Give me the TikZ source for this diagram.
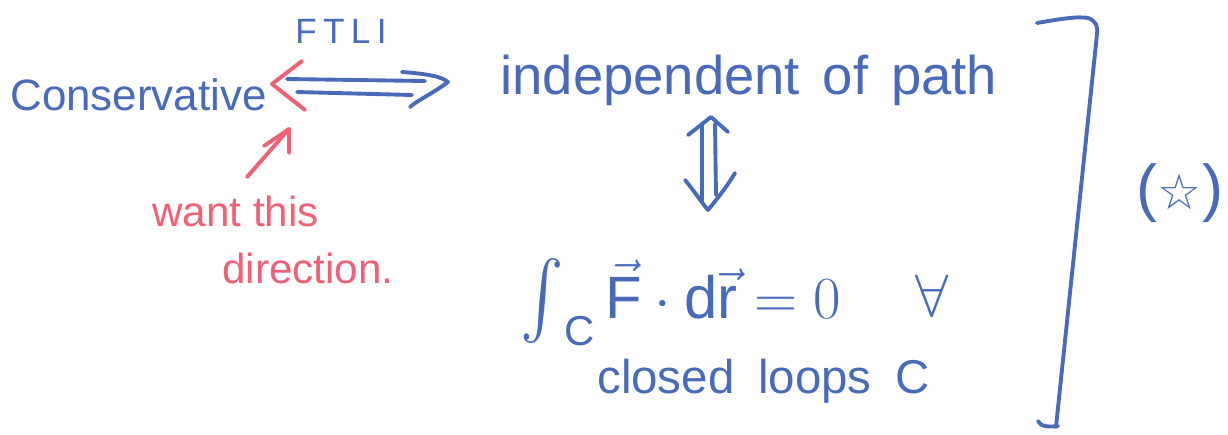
\RequirePackage{fix-cm}
\documentclass[tikz,border=0pt]{standalone}
\usepackage{amsmath}
\usepackage{graphicx}
\usepackage{fontspec}
\setmainfont{Liberation Sans}
\newfontfamily\symfont{DejaVu Sans}
\definecolor{inkblue}{RGB}{72,106,184}
\definecolor{inkred}{RGB}{240,96,118}
\newcommand{\widesp}[1]{\spaceskip=#1\relax}
\newcommand{\bigint}{\mathop{\raisebox{-5pt}{\scalebox{1.5}[1.75]{$\int$}}}\nolimits}
\tikzset{
  pen/.style={line width=2.2pt, line cap=round, line join=round},
  bluepen/.style={pen, draw=inkblue},
  redpen/.style={pen, draw=inkred},
  bluetxt/.style={text=inkblue, inner sep=0pt, anchor=base west},
  redtxt/.style={text=inkred, inner sep=0pt, anchor=base west},
}
\begin{document}
\begin{tikzpicture}[x=0.02cm,y=-0.02cm]
\useasboundingbox (0,0) rectangle (1228,434);
% texts
\node[bluetxt, font=\fontsize{25}{30}\selectfont] (cons) at (10,110) {Conservative};
\node[bluetxt, font=\fontsize{20}{24}\selectfont\addfontfeature{LetterSpace=18}] (ftli) at (295,43) {FTLI};
\node[bluetxt, font=\fontsize{31}{36}\selectfont] (indep) at (500,94) {\widesp{0.42em}independent of path};
\node[redtxt, font=\fontsize{24}{28}\selectfont] (want) at (152,226) {want this};
\node[redtxt, font=\fontsize{24}{28}\selectfont] (dir) at (222,283) {direction.};
\node[bluetxt, font=\fontsize{34}{40}\selectfont] (integ) at (520,318) {$\bigint_{\mathrm{C}}\vec{\mathrm{F}}\cdot \mathrm{d}\vec{\mathrm{r}} = 0$};
\node[bluetxt, font=\fontsize{34}{40}\selectfont] (forall) at (915,316) {$\forall$};
\node[bluetxt, font=\fontsize{27}{32}\selectfont] (loops) at (597,393) {\widesp{0.5em}closed loops C};
\node[text=inkblue, inner sep=0pt, font=\fontsize{36}{40}\selectfont] (star) at (1180,193) {({\symfont\fontsize{28}{32}\selectfont ☆})};
% double arrow Conservative <=> independent
\coordinate (la) at (272,84);
\coordinate (ra) at (448,82);
\draw[redpen] (302,61) -- (la) -- (305,110);
\draw[bluepen] (287,79) -- (425,81);
\draw[bluepen] (297,92) -- (412,95);
\draw[bluepen] (402,72) .. controls (430,74) and (442,77) .. (ra) .. controls (435,92) and (418,100) .. (410,107);
% vertical double arrow
\coordinate (ua) at (711,117);
\coordinate (da) at (708,210);
\draw[bluepen] (702,124) -- (702,200);
\draw[bluepen] (715,124) -- (716,195);
\draw[bluepen] (688,135) -- (ua) -- (728,132);
\draw[bluepen] (685,180) .. controls (695,192) and (702,203) .. (da) .. controls (718,198) and (728,185) .. (735,173);
% red pointer arrow
\coordinate (pt) at (289,129);
\draw[redpen] (247,177) -- (pt);
\draw[redpen] (264,146) -- (pt) -- (289,153);
% bracket
\draw[bluepen] (1037,23) .. controls (1060,19) and (1078,16) .. (1088,18) .. controls (1096,21) and (1098,26) .. (1097,34) -- (1056,427);
\draw[bluepen] (1038,421) .. controls (1040,427) and (1050,427) .. (1058,426);
\end{tikzpicture}
\end{document}
